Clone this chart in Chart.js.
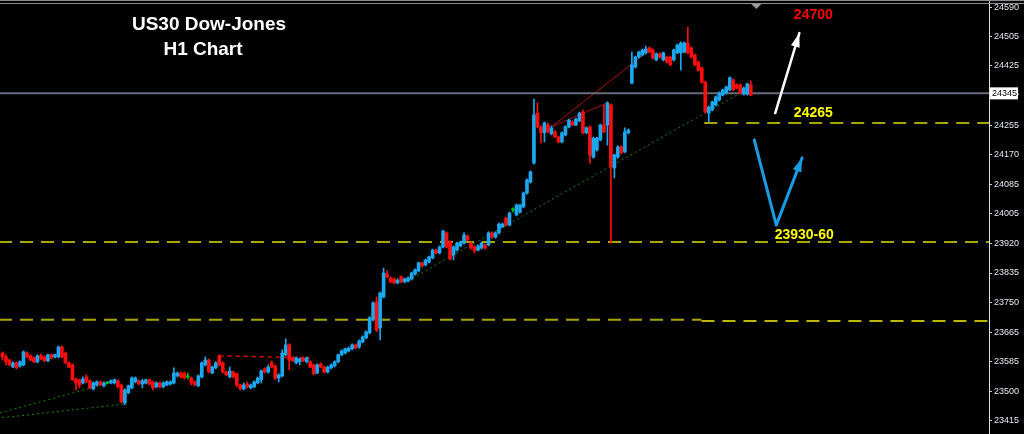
<!DOCTYPE html>
<html>
<head>
<meta charset="utf-8">
<script src="https://cdn.jsdelivr.net/npm/chart.js@4.4.1/dist/chart.umd.min.js"></script>
<style>
  html, body { margin: 0; padding: 0; background: #000; }
  #wrap { width: 1024px; height: 434px; }
</style>
</head>
<body>
<div id="wrap"><canvas id="dowChart" width="1024" height="434"></canvas></div>
<script>
// US30 H1 candles (index = bar number from the left)
const opens = [
  23608,23597,23588,23568,23580,23571,23574,23608,23600,23594,
  23583,23600,23597,23586,23603,23597,23597,23625,23608,23580,
  23574,23534,23532,23523,23540,23529,23506,23517,23526,23515,
  23523,23523,23523,23529,23517,23466,23495,23509,23526,23529,
  23520,23523,23532,23526,23512,23523,23512,23517,23520,23523,
  23543,23551,23551,23540,23537,23526,23515,23540,23574,23588,
  23551,23566,23600,23580,23554,23540,23554,23549,23517,23506,
  23520,23509,23512,23523,23532,23563,23554,23580,23571,23537,
  23543,23603,23631,23594,23580,23583,23594,23583,23583,23574,
  23551,23577,23568,23554,23566,23571,23583,23603,23608,23614,
  23620,23631,23625,23639,23651,23665,23702,23753,23679,23767,
  23832,23821,23818,23807,23824,23810,23812,23818,23832,23841,
  23864,23858,23866,23878,23900,23892,23909,23949,23923,23886,
  23900,23912,23920,23940,23920,23909,23900,23906,23915,23915,
  23949,23937,23949,23966,23991,23971,24014,24000,24008,24023,
  24062,24093,24147,24289,24250,24233,24255,24230,24236,24221,
  24207,24227,24250,24264,24255,24267,24292,24233,24250,24164,
  24184,24213,24255,24255,24312,24133,24164,24193,24179,24233,
  24374,24420,24448,24454,24460,24474,24468,24440,24457,24440,
  24448,24448,24440,24460,24460,24462,24488,24474,24454,24434,
  24417,24377,24289,24298,24312,24326,24340,24346,24355,24383,
  24369,24369,24343,24343,24369
];
const highs = [
  23611,23603,23591,23583,23583,23586,23614,23611,23603,23597,
  23603,23605,23600,23605,23605,23605,23628,23628,23611,23583,
  23577,23537,23534,23540,23546,23532,23526,23529,23529,23526,
  23526,23532,23534,23532,23520,23506,23517,23540,23540,23532,
  23534,23534,23534,23529,23526,23526,23526,23529,23529,23566,
  23554,23554,23554,23551,23540,23529,23546,23583,23597,23591,
  23571,23583,23603,23583,23557,23568,23557,23551,23520,23523,
  23526,23520,23529,23540,23560,23566,23574,23586,23574,23549,
  23617,23648,23634,23597,23597,23594,23597,23597,23586,23577,
  23577,23580,23571,23571,23577,23586,23605,23617,23622,23625,
  23634,23634,23645,23657,23671,23711,23753,23767,23781,23849,
  23841,23824,23821,23818,23827,23821,23824,23838,23847,23866,
  23866,23875,23883,23903,23903,23912,23957,23952,23926,23912,
  23923,23926,23949,23943,23923,23912,23915,23923,23917,23952,
  23952,23952,23977,23977,23994,24008,24020,24031,24031,24065,
  24102,24125,24329,24318,24253,24264,24261,24253,24239,24224,
  24236,24253,24272,24267,24275,24292,24298,24250,24253,24221,
  24221,24258,24312,24321,24315,24173,24196,24196,24247,24244,
  24462,24451,24465,24471,24479,24477,24471,24460,24460,24462,
  24451,24451,24471,24485,24491,24491,24533,24477,24457,24437,
  24420,24380,24309,24323,24338,24349,24357,24366,24392,24386,
  24372,24372,24363,24374,24380
];
const lows = [
  23588,23574,23571,23566,23563,23568,23571,23594,23586,23580,
  23580,23588,23583,23583,23591,23594,23594,23594,23577,23566,
  23529,23503,23509,23520,23523,23506,23503,23515,23515,23512,
  23520,23520,23520,23509,23466,23461,23492,23506,23523,23517,
  23509,23520,23517,23503,23509,23509,23509,23515,23517,23520,
  23540,23537,23534,23534,23517,23515,23512,23537,23571,23551,
  23549,23563,23571,23551,23543,23537,23537,23512,23503,23503,
  23509,23506,23509,23520,23523,23551,23551,23566,23532,23526,
  23540,23600,23560,23583,23577,23574,23583,23580,23566,23546,
  23549,23566,23551,23551,23563,23568,23580,23600,23605,23611,
  23617,23620,23622,23637,23648,23662,23699,23668,23645,23764,
  23821,23807,23804,23804,23807,23807,23810,23815,23829,23838,
  23852,23855,23864,23875,23889,23889,23906,23906,23872,23872,
  23898,23909,23917,23926,23903,23892,23898,23903,23903,23912,
  23934,23934,23946,23963,23969,23969,24008,23997,24005,24020,
  24059,24090,24144,24247,24204,24207,24233,24227,24219,24204,
  24204,24224,24247,24253,24253,24264,24230,24230,24147,24161,
  24181,24210,24233,24198,23920,24105,24161,24173,24176,24230,
  24372,24417,24445,24451,24457,24460,24443,24437,24445,24437,
  24431,24423,24437,24457,24411,24460,24457,24445,24423,24408,
  24374,24289,24264,24295,24309,24323,24338,24343,24352,24352,
  24357,24343,24340,24340,24338
];
const closes = [
  23597,23583,23574,23580,23566,23583,23611,23597,23588,23583,
  23600,23591,23586,23603,23594,23603,23625,23597,23580,23568,
  23532,23523,23517,23534,23526,23509,23523,23526,23517,23523,
  23523,23529,23532,23512,23469,23503,23515,23537,23537,23520,
  23529,23532,23520,23509,23523,23512,23523,23526,23526,23551,
  23551,23540,23537,23540,23523,23517,23543,23580,23588,23554,
  23568,23580,23574,23554,23546,23557,23540,23517,23506,23517,
  23512,23517,23526,23537,23557,23554,23568,23568,23537,23546,
  23608,23631,23588,23586,23594,23591,23586,23594,23568,23549,
  23574,23568,23554,23568,23574,23583,23603,23614,23620,23622,
  23631,23622,23642,23654,23668,23708,23750,23673,23778,23835,
  23824,23810,23807,23815,23810,23818,23821,23835,23844,23864,
  23855,23872,23881,23900,23892,23909,23954,23909,23875,23909,
  23920,23923,23943,23929,23906,23898,23912,23920,23906,23949,
  23937,23949,23974,23974,23971,24005,24014,24028,24028,24062,
  24099,24122,24284,24250,24233,24261,24236,24247,24221,24207,
  24233,24250,24269,24255,24272,24289,24233,24247,24170,24218,
  24218,24255,24236,24318,24136,24170,24193,24176,24236,24241,
  24426,24448,24462,24468,24471,24462,24445,24457,24448,24460,
  24434,24426,24468,24482,24488,24488,24460,24448,24426,24411,
  24377,24292,24306,24321,24335,24346,24355,24363,24389,24355,
  24360,24346,24360,24372,24340
];

// right-hand price scale labels
const priceTicks = [23415, 23500, 23585, 23665, 23750, 23835, 23920, 24005, 24085, 24170, 24255, 24345, 24425, 24505, 24590];
const lastPrice = 24345;

// horizontal levels: price, first bar, last bar
const levelPrice = [24345, 24261, 23923, 23702, 23699];
const levelFrom  = [-1, 200.7, -1, -1, 199.9];
const levelTo    = [290, 290, 290, 199.9, 290];

// trend lines drawn on the chart (bar index, price)
const greenTrendA = [{x: -0.7, y: 23438}, {x: 30.7, y: 23523}];
const greenTrendB = [{x: -0.1, y: 23424}, {x: 35, y: 23463}];
const greenTrendC = [{x: 117.3, y: 23821}, {x: 213.6, y: 24360}];
const redDashed   = [{x: 62.1, y: 23600}, {x: 87.9, y: 23594}];
const redTrendA   = [{x: 157, y: 24250}, {x: 173, y: 24318}];
const redTrendB   = [{x: 157, y: 24250}, {x: 185.9, y: 24474}];

// text notes and hand-drawn arrows
const noteText  = ['24700', '24265', '23930-60'];
const noteBar   = [231.9, 231.9, 229.3];
const notePrice = [24567, 24289, 23943];
const noteColor = ['#ff0000', '#ffff00', '#ffff00'];
const whiteArrow = [{x: 221, y: 24289}, {x: 227.9, y: 24516}];
const blueArrow  = [{x: 215, y: 24213}, {x: 221.3, y: 23971}, {x: 228.7, y: 24162}];

const UP = '#1ca8ee', DOWN = '#ff0d0d', DOJI = '#00c400';
function candleColor(i) {
  if (closes[i] > opens[i]) return UP;
  if (closes[i] < opens[i]) return DOWN;
  return DOJI;
}

const wickData = highs.map((h, i) => ({x: i, y: [lows[i], h]}));
const bodyData = opens.map((o, i) => ({x: i, y: [o, closes[i]]}));

const levelStyles = [
  {color: '#646d78', width: 2, dash: []},
  {color: '#aaa600', width: 2, dash: [13, 8]},
  {color: '#aaa600', width: 2, dash: [13, 8]},
  {color: '#aaa600', width: 2, dash: [13, 8]},
  {color: '#bcb800', width: 2, dash: [13, 8]}
];

const lineSet = (data, color, width, dash) => ({
  type: 'line', data: data, borderColor: color, borderWidth: width,
  borderDash: dash, pointRadius: 0, fill: false, order: 3, tension: 0
});

const datasets = [];
levelPrice.forEach((p, i) => {
  const s = levelStyles[i];
  datasets.push(lineSet([{x: levelFrom[i], y: p}, {x: levelTo[i], y: p}], s.color, s.width, s.dash));
});
datasets.push(lineSet(greenTrendA, '#0b8a0b', 1, [2, 3]));
datasets.push(lineSet(greenTrendB, '#0b8a0b', 1, [2, 3]));
datasets.push(lineSet(greenTrendC, '#0b8a0b', 1, [2, 3]));
datasets.push(lineSet(redDashed, '#e00000', 1.5, [4, 4]));
datasets.push(lineSet(redTrendA, '#b00c0c', 1, []));
datasets.push(lineSet(redTrendB, '#b00c0c', 1, []));
datasets.push({
  type: 'bar', data: wickData, barThickness: 1, grouped: false, order: 2,
  backgroundColor: ctx => candleColor(ctx.dataIndex)
});
datasets.push({
  type: 'bar', data: bodyData, barThickness: 3, grouped: false, order: 1, minBarLength: 1,
  backgroundColor: ctx => candleColor(ctx.dataIndex)
});

function arrowHead(c, x1, y1, x2, y2, len, half) {
  const a = Math.atan2(y2 - y1, x2 - x1);
  c.beginPath();
  c.moveTo(x2, y2);
  c.lineTo(x2 - len * Math.cos(a) + half * Math.sin(a), y2 - len * Math.sin(a) - half * Math.cos(a));
  c.lineTo(x2 - len * Math.cos(a) - half * Math.sin(a), y2 - len * Math.sin(a) + half * Math.cos(a));
  c.closePath();
  c.fill();
}

const overlay = {
  id: 'overlay',
  afterDraw(chart) {
    const c = chart.ctx, xs = chart.scales.x, ys = chart.scales.y, area = chart.chartArea;
    c.save();
    // window top border
    c.fillStyle = '#8c8c8c';
    c.fillRect(0, 0, 1024, 1);
    c.fillRect(0, 3, 1024, 1);

    // chart shift marker
    const mx = xs.getPixelForValue(215.6);
    c.fillStyle = '#9a9a9a';
    c.beginPath();
    c.moveTo(mx - 5, 4); c.lineTo(mx + 5, 4); c.lineTo(mx, 9); c.closePath(); c.fill();

    // title
    c.fillStyle = '#ffffff';
    c.textAlign = 'center';
    c.textBaseline = 'middle';
    c.font = 'bold 19px "Liberation Sans", Arial, sans-serif';
    c.fillText('US30 Dow-Jones', 209, 25);
    c.fillText('H1 Chart', 203, 50);

    // notes
    c.font = 'bold 14px "Liberation Sans", Arial, sans-serif';
    noteText.forEach((t, i) => {
      c.fillStyle = noteColor[i];
      c.fillText(t, xs.getPixelForValue(noteBar[i]), ys.getPixelForValue(notePrice[i]));
    });

    // arrows
    const drawArrow = (pts, color, width) => {
      const px = pts.map(p => [xs.getPixelForValue(p.x), ys.getPixelForValue(p.y)]);
      c.strokeStyle = color; c.fillStyle = color; c.lineWidth = width;
      c.lineJoin = 'round'; c.lineCap = 'round';
      c.beginPath();
      px.forEach((p, i) => i ? c.lineTo(p[0], p[1]) : c.moveTo(p[0], p[1]));
      c.stroke();
      const n = px.length;
      arrowHead(c, px[n - 2][0], px[n - 2][1], px[n - 1][0], px[n - 1][1], 14, 4.5);
    };
    drawArrow(whiteArrow, '#ffffff', 2.5);
    drawArrow(blueArrow, '#1a9ce4', 3);

    // current price box on the axis
    const py = ys.getPixelForValue(lastPrice);
    c.fillStyle = '#ffffff';
    c.fillRect(area.right + 1, py - 6, 28, 12);
    c.fillStyle = '#000000';
    c.textAlign = 'left';
    c.font = '9px "Liberation Sans", Arial, sans-serif';
    c.fillText(String(lastPrice), area.right + 3, py + 0.5);
    c.restore();
  }
};

new Chart(document.getElementById('dowChart'), {
  type: 'bar',
  data: { datasets: datasets },
  options: {
    responsive: false,
    animation: false,
    layout: { padding: 0 },
    plugins: { legend: { display: false }, tooltip: { enabled: false } },
    scales: {
      x: {
        type: 'linear', min: -0.714, max: 282.14, offset: false, display: false
      },
      y: {
        position: 'right',
        min: 23378, max: 24610,
        afterBuildTicks: scale => { scale.ticks = priceTicks.map(v => ({value: v})); },
        afterFit: scale => { scale.width = 35; scale.paddingTop = 0; scale.paddingBottom = 0; },
        grid: { drawOnChartArea: false, drawTicks: true, tickLength: 3, color: '#d0d0d0' },
        border: { display: true, color: '#e0e0e0', width: 1 },
        ticks: {
          autoSkip: false, padding: 2, color: '#e2e8f0',
          font: { family: '"Liberation Sans", Arial, sans-serif', size: 9 },
          callback: v => String(v)
        }
      }
    }
  },
  plugins: [overlay]
});
</script>
</body>
</html>
